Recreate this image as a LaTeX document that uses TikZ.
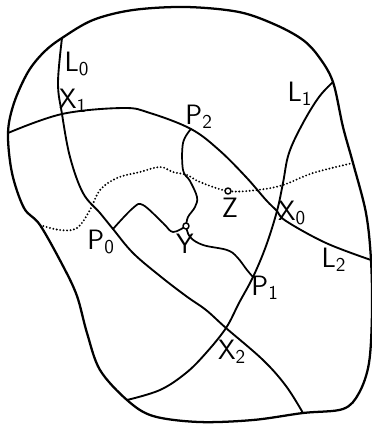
\documentclass[tikz,border=0pt]{standalone}
\usepackage{amssymb}

\begin{document}
\begin{tikzpicture}[x=0.75pt,y=-0.75pt, line join=round, line cap=round,
	lbl/.style={font=\sffamily\fontsize{21}{23}\selectfont, inner sep=0pt}]
	\useasboundingbox (0,0) rectangle (372,426);
	% points where the curves meet
	\coordinate (x0) at (277,211);
	\coordinate (x1) at (62,114);
	\coordinate (x2) at (226,328);
	\coordinate (p0) at (113,229);
	\coordinate (p1) at (253,277);
	\coordinate (p2) at (191,129);
	\coordinate (y) at (186,226);
	\coordinate (z) at (228,191);
	% ends on the rim
	\coordinate (l0a) at (62,38);
	\coordinate (l0b) at (303,413);
	\coordinate (l1a) at (333,82);
	\coordinate (l1b) at (127,400);
	\coordinate (l2a) at (8,133);
	\coordinate (l2b) at (371,260);
	\coordinate (da) at (40,225);
	\coordinate (db) at (353,163);
	% rim
	\draw[black, line width=1.7pt] plot[smooth cycle, tension=0.55] coordinates {(l0a) (93,20) (133,10) (186,7) (239,12) (276,25) (303,40) (319,57) (l1a) (343,127) (db) (366,213) (l2b) (372,313) (369,363) (359,393) (343,409) (l0b) (253,420) (199,422) (153,416) (l1b) (100,370) (87,333) (77,296) (63,266) (da) (24,208) (12,173) (l2a) (14,103) (28,72) (44,52)};
	% the three lines
	\draw[black, line width=1.4pt] plot[smooth, tension=0.6] coordinates {(l0a) (58,83) (x1) (70,157) (83,193) (100,213) (p0) (133,253) (160,276) (186,296) (206,310) (x2) (263,360) (286,386) (l0b)};
	\draw[black, line width=1.4pt] plot[smooth, tension=0.6] coordinates {(l1a) (319,97) (303,123) (289,153) (283,183) (x0) (266,246) (p1) (239,303) (x2) (206,353) (186,373) (160,390) (l1b)};
	\draw[black, line width=1.4pt] plot[smooth, tension=0.6] coordinates {(l2a) (x1) (123,108) (150,113) (p2) (219,150) (246,177) (266,200) (x0) (286,221) (326,243) (l2b)};
	% paths through Y
	\draw[black, line width=1.3pt] plot[smooth, tension=0.6] coordinates {(p2) (183,143) (183,170) (190,181) (197,197) (195,207) (188,217) (y)};
	\draw[black, line width=1.3pt] plot[smooth, tension=0.6] coordinates {(y) (173,232) (163,223) (143,205) (133,208) (p0)};
	\draw[black, line width=1.3pt] plot[smooth, tension=0.6] coordinates {(y) (190,237) (203,245) (227,250) (237,257) (247,270) (p1)};
	% dotted path through Z
	\draw[black, line width=1.6pt, dash pattern=on 0pt off 2.6pt] plot[smooth, tension=0.6] coordinates {(da) (60,230) (77,228) (90,210) (100,190) (117,178) (140,172) (160,167) (173,172) (187,175) (200,182) (z) (257,190) (283,185) (313,173) (db)};
	\filldraw[black, fill=white, line width=1.1pt] (y) circle (3);
	\filldraw[black, fill=white, line width=1.1pt] (z) circle (3);
	% labels
	\node[lbl] (nl0) at (77,64) {L\textsubscript{0}};
	\node[lbl] (nl1) at (300,94) {L\textsubscript{1}};
	\node[lbl] (nl2) at (334,260) {L\textsubscript{2}};
	\node[lbl] (nx0) at (292,213) {X\textsubscript{0}};
	\node[lbl] (nx1) at (73,101) {X\textsubscript{1}};
	\node[lbl] (nx2) at (232,352) {X\textsubscript{2}};
	\node[lbl] (np0) at (101,242) {P\textsubscript{0}};
	\node[lbl] (np1) at (265,288) {P\textsubscript{1}};
	\node[lbl] (np2) at (199,117) {P\textsubscript{2}};
	\node[lbl] (ny) at (185,244) {Y};
	\node[lbl] (nz) at (230,208) {Z};
\end{tikzpicture}
\end{document}
